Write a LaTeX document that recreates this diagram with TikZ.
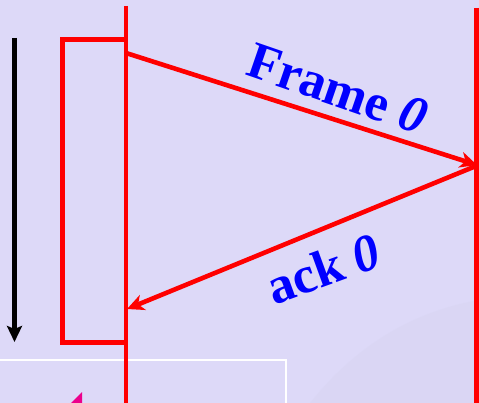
\documentclass[tikz,border=0pt]{standalone}
\usepackage{fontspec}
\setmainfont{Liberation Serif}
\usetikzlibrary{arrows.meta}
\definecolor{bglav}{RGB}{221,217,248}
\definecolor{bgshade}{RGB}{216,213,242}
\tikzset{
  redline/.style={draw=red, line width=4.8pt},
  redarrow/.style={draw=red, line width=4.6pt, -{Stealth[length=17pt,width=16pt,inset=5pt]}},
  timearrow/.style={draw=black, line width=4.5pt, -{Stealth[length=16pt,width=15pt,inset=3pt]}},
  msg/.style={text=blue, font=\fontsize{52}{62}\selectfont\bfseries, inner sep=0pt},
}
\begin{document}
\begin{tikzpicture}[x=1pt,y=-1pt]
\useasboundingbox (0,0) rectangle (479,403);
\fill[bglav] (0,0) rectangle (479,403);
% faint background texture
\fill[bgshade, opacity=0.5] (310,403) .. controls (360,340) and (420,310) .. (479,300) -- (479,403) -- cycle;
% white frame bottom-left
\draw[white, line width=1.5pt] (-5,360) -- (286,360) -- (286,410);
% magenta fragment
\fill[magenta] (82,392) -- (82,403) -- (71,403) -- cycle;
% coordinates
\coordinate (sTop) at (126,6);
\coordinate (sBot) at (126,403);
\coordinate (rTop) at (476.5,8);
\coordinate (rBot) at (476.5,403);
\coordinate (f0s) at (126,53);
\coordinate (f0e) at (477,165);
\coordinate (a0s) at (476,166);
\coordinate (a0e) at (127,309);
\coordinate (tTop) at (14.5,38);
\coordinate (tBot) at (14.5,342);
% time arrow
\draw[timearrow] (tTop) -- (tBot);
% timeout box
\draw[redline] (126,39.5) -- (62.5,39.5) -- (62.5,342.5) -- (126,342.5);
% vertical lines
\draw[redline] (sTop) -- (sBot);
\draw[redline] (rTop) -- (rBot);
% messages
\draw[redarrow] (f0s) -- (f0e);
\draw[redarrow] (a0s) -- (a0e);
\node[msg, rotate=-19] (lblF) at (338,89) {Frame \textit{0}};
\node[msg, rotate=20] (lblA) at (323,269) {ack \textit{0}};
\end{tikzpicture}
\end{document}
